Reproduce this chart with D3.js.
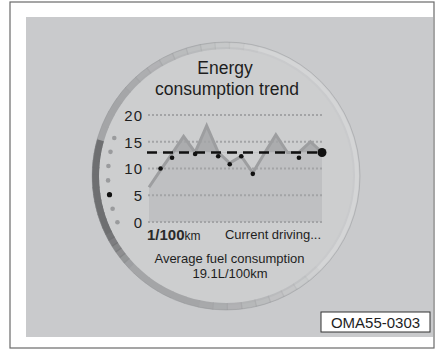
<!doctype html>
<html lang="en">
<head>
  <meta charset="utf-8" />
  <title>Energy consumption trend</title>
  <script src="https://cdn.jsdelivr.net/npm/d3@7"></script>
  <style>
    body { margin: 0; background: #fff; }
    text { font-family: "Liberation Sans", Arial, sans-serif; fill: #1e1e1e; }
  </style>
</head>
<body>
<script type="text/javascript">

  // chart data
  var yTicks = [0, 5, 10, 15, 20];
  var trend = [6.5, 9.7, 12.8, 16, 13, 18, 13, 11, 12.3, 9.2, 12.8, 16.3, 13, 13, 15, 13];
  var dotIndex = [1, 2, 4, 6, 7, 8, 9, 13, 15];
  var dotValue = [10, 12, 12.7, 12.3, 10.8, 12.3, 9, 12, 13];
  var average = 13;
  var sideDots = [0, 1, 2, 3, 4, 5, 6]; // seven level marks, the fifth one is active
  var activeSide = 4;

  var W = 436, H = 350;
  var cx = 226, cy = 176;

  var svg = d3.select("body").append("svg")
    .attr("width", W)
    .attr("height", H);

  // frame + grey panel
  svg.append("rect")
    .attr("x", 10).attr("y", 2).attr("width", 424).attr("height", 346)
    .attr("fill", "#fff").attr("stroke", "#6a6a6a").attr("stroke-width", 1.2);
  svg.append("rect")
    .attr("x", 26).attr("y", 17).attr("width", 407).attr("height", 320)
    .attr("fill", "#c9cacc");

  // the round display
  svg.append("circle")
    .attr("cx", cx).attr("cy", cy).attr("r", 127)
    .attr("fill", "#cdcecf");
  svg.append("circle")
    .attr("cx", cx).attr("cy", cy).attr("r", 131)
    .attr("fill", "none").attr("stroke", "#d4d5d6").attr("stroke-width", 4);

  var ring = d3.arc().innerRadius(127).outerRadius(134);
  var g = svg.append("g").attr("transform", "translate(" + cx + "," + cy + ")");

  // light part of the ring, fading at both ends
  var steps = 40, a0 = 2.25, a1 = 2 * Math.PI + 0.35;
  for (var i = 0; i < steps; i++) {
    var s = a0 + (a1 - a0) * i / steps, e = a0 + (a1 - a0) * (i + 1) / steps;
    var t = i / (steps - 1);
    var op = Math.min(1, Math.min(t * 4, (1 - t) * 3.5));
    g.append("path")
      .attr("d", ring({ startAngle: s, endAngle: e + 0.01 }))
      .attr("fill", "#a4a5a7")
      .attr("opacity", op);
  }
  // dark part on the left
  var dSteps = 20, d0 = 3.95, d1 = 4.98;
  for (var j = 0; j < dSteps; j++) {
    var ds = d0 + (d1 - d0) * j / dSteps, de = d0 + (d1 - d0) * (j + 1) / dSteps;
    var tt = j / (dSteps - 1);
    g.append("path")
      .attr("d", ring({ startAngle: ds, endAngle: de + 0.01 }))
      .attr("fill", "#6e6f71")
      .attr("opacity", Math.min(1, tt * 3 + 0.1));
  }
  g.append("circle").attr("r", 134).attr("fill", "none")
    .attr("stroke", "#8d8e90").attr("stroke-width", 0.8).attr("opacity", 0.5);

  // level marks on the left
  var sideAngle = d3.scaleLinear().domain([0, 6]).range([5.04, 4.31]);
  g.selectAll(".side")
    .data(sideDots)
    .enter().append("circle")
    .attr("cx", function(d) { return 118 * Math.sin(sideAngle(d)); })
    .attr("cy", function(d) { return -118 * Math.cos(sideAngle(d)); })
    .attr("r", function(d) { return d === activeSide ? 2.6 : 2.3; })
    .attr("fill", function(d) { return d === activeSide ? "#111" : "#9a9b9d"; });

  // scales
  var x = d3.scaleLinear().domain([0, trend.length - 1]).range([149, 322]);
  var y = d3.scaleLinear().domain([0, 20]).range([222, 115]);

  // area under the trend
  var area = d3.area()
    .x(function(d, i) { return x(i); })
    .y0(y(0))
    .y1(function(d) { return y(d); });
  svg.append("path")
    .datum(trend)
    .attr("d", area)
    .attr("fill", "#bfc0c2");

  // darker part above the average
  svg.append("clipPath").attr("id", "above")
    .append("rect")
    .attr("x", 140).attr("y", 100).attr("width", 200).attr("height", y(average) - 100);
  var areaAvg = d3.area()
    .x(function(d, i) { return x(i); })
    .y0(y(average))
    .y1(function(d) { return y(d); });
  svg.append("path")
    .datum(trend)
    .attr("d", areaAvg)
    .attr("clip-path", "url(#above)")
    .attr("fill", "#abacae");

  // dotted grid
  svg.selectAll(".grid")
    .data(yTicks)
    .enter().append("line")
    .attr("x1", 148).attr("x2", 322)
    .attr("y1", function(d) { return y(d); })
    .attr("y2", function(d) { return y(d); })
    .attr("stroke", "#a3a4a6")
    .attr("stroke-width", 2)
    .attr("stroke-dasharray", "2,2");

  // trend line
  var line = d3.line()
    .x(function(d, i) { return x(i); })
    .y(function(d) { return y(d); });
  svg.append("path")
    .datum(trend)
    .attr("d", line)
    .attr("fill", "none")
    .attr("stroke", "#9d9ea0")
    .attr("stroke-width", 3)
    .attr("stroke-linejoin", "miter");

  // average dashed line
  svg.append("line")
    .attr("x1", 147).attr("x2", x(trend.length - 1))
    .attr("y1", y(average)).attr("y2", y(average))
    .attr("stroke", "#111")
    .attr("stroke-width", 2.5)
    .attr("stroke-dasharray", "10,6");

  // black dots
  svg.selectAll(".dot")
    .data(dotIndex)
    .enter().append("circle")
    .attr("cx", function(d) { return x(d); })
    .attr("cy", function(d, i) { return y(dotValue[i]); })
    .attr("r", function(d, i) { return i === dotIndex.length - 1 ? 4.5 : 2.3; })
    .attr("fill", "#111");

  // y axis labels
  var yAxis = d3.axisLeft(y).tickValues(yTicks).tickSize(0).tickPadding(0);
  var ax = svg.append("g")
    .attr("transform", "translate(143,0)")
    .call(yAxis);
  ax.select(".domain").remove();
  ax.selectAll("text")
    .attr("font-family", "Liberation Sans, Arial, sans-serif")
    .attr("font-size", 15)
    .attr("letter-spacing", 1)
    .attr("fill", "#1e1e1e")
    .attr("dy", "0.36em");

  // titles and labels
  svg.append("text").attr("x", 225).attr("y", 74)
    .attr("text-anchor", "middle").attr("font-size", 17.5).text("Energy");
  svg.append("text").attr("x", 227).attr("y", 95)
    .attr("text-anchor", "middle").attr("font-size", 17.5).text("consumption trend");

  var unit = svg.append("text").attr("x", 147).attr("y", 240);
  unit.append("tspan").attr("font-size", 15).attr("font-weight", "bold").attr("fill", "#2a2a2a").text("1/100");
  unit.append("tspan").attr("font-size", 12).text("km");

  svg.append("text").attr("x", 321).attr("y", 239)
    .attr("text-anchor", "end").attr("font-size", 13).text("Current driving...");

  svg.append("text").attr("x", 229.5).attr("y", 263)
    .attr("text-anchor", "middle").attr("font-size", 13).text("Average fuel consumption");
  svg.append("text").attr("x", 230).attr("y", 278)
    .attr("text-anchor", "middle").attr("font-size", 13).text("19.1L/100km");

  // figure code box
  svg.append("rect")
    .attr("x", 321).attr("y", 312).attr("width", 109).attr("height", 20)
    .attr("fill", "#fff").attr("stroke", "#333").attr("stroke-width", 1);
  svg.append("text").attr("x", 375.5).attr("y", 328)
    .attr("text-anchor", "middle").attr("font-size", 15).text("OMA55-0303");

</script>
</body>
</html>
